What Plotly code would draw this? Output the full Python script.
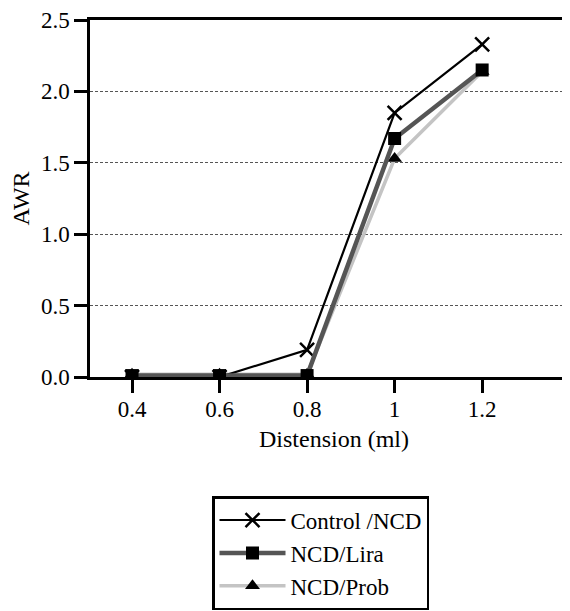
import plotly.graph_objects as go

distension = [0.4, 0.6, 0.8, 1.0, 1.2]
tick_labels = ["0.4", "0.6", "0.8", "1", "1.2"]
control_ncd = [0.0, 0.0, 0.19, 1.85, 2.33]
ncd_lira = [0.01, 0.01, 0.01, 1.67, 2.15]
ncd_prob = [0.02, 0.02, 0.02, 1.53, 2.14]

FONT = "Liberation Serif"

fig = go.Figure()
fig.add_trace(go.Scatter(
    x=distension, y=ncd_prob, name="NCD/Prob", mode="lines+markers",
    line=dict(color="#c4c4c4", width=3.5),
    marker=dict(symbol="triangle-up", size=13, color="black"),
    legendrank=3,
))
fig.add_trace(go.Scatter(
    x=distension, y=control_ncd, name="Control /NCD", mode="lines+markers",
    line=dict(color="black", width=2.2),
    marker=dict(symbol="x-thin", size=14, color="black", line=dict(color="black", width=2.5)),
    legendrank=1,
))
fig.add_trace(go.Scatter(
    x=distension, y=ncd_lira, name="NCD/Lira", mode="lines+markers",
    line=dict(color="#555555", width=4.5),
    marker=dict(symbol="square", size=13, color="black"),
    legendrank=2,
))

fig.update_layout(
    width=570, height=611,
    margin=dict(l=82, r=0, t=10, b=242),
    paper_bgcolor="white", plot_bgcolor="white",
    font=dict(family=FONT, size=23, color="black"),
    showlegend=True,
    legend=dict(
        x=0.25, y=-0.3335, xanchor="left", yanchor="top",
        bordercolor="black", borderwidth=2.5,
        font=dict(family=FONT, size=23, color="black"),
        tracegroupgap=0, itemwidth=66,
    ),
)
fig.update_xaxes(
    range=[0.304, 1.419], tickvals=distension, ticktext=tick_labels,
    showline=True, linecolor="black", linewidth=2.5, mirror=True,
    ticks="outside", ticklen=13, tickwidth=2.5, tickcolor="black",
    ticklabelstandoff=-3,
    showgrid=False, zeroline=False,
    title=dict(text="Distension (ml)", font=dict(family=FONT, size=24), standoff=9),
)
fig.update_yaxes(
    range=[0, 2.5], dtick=0.5, tickformat=".1f",
    showline=True, linecolor="black", linewidth=2.5,
    ticks="outside", ticklen=13, tickwidth=2.5, tickcolor="black",
    ticklabelstandoff=0, ticklabeloverflow="allow",
    showgrid=True, gridcolor="#555555", gridwidth=1, griddash="3px,2px",
    zeroline=False,
    title=dict(text="AWR", font=dict(family=FONT, size=24), standoff=8),
)

fig.write_html("out.html")
